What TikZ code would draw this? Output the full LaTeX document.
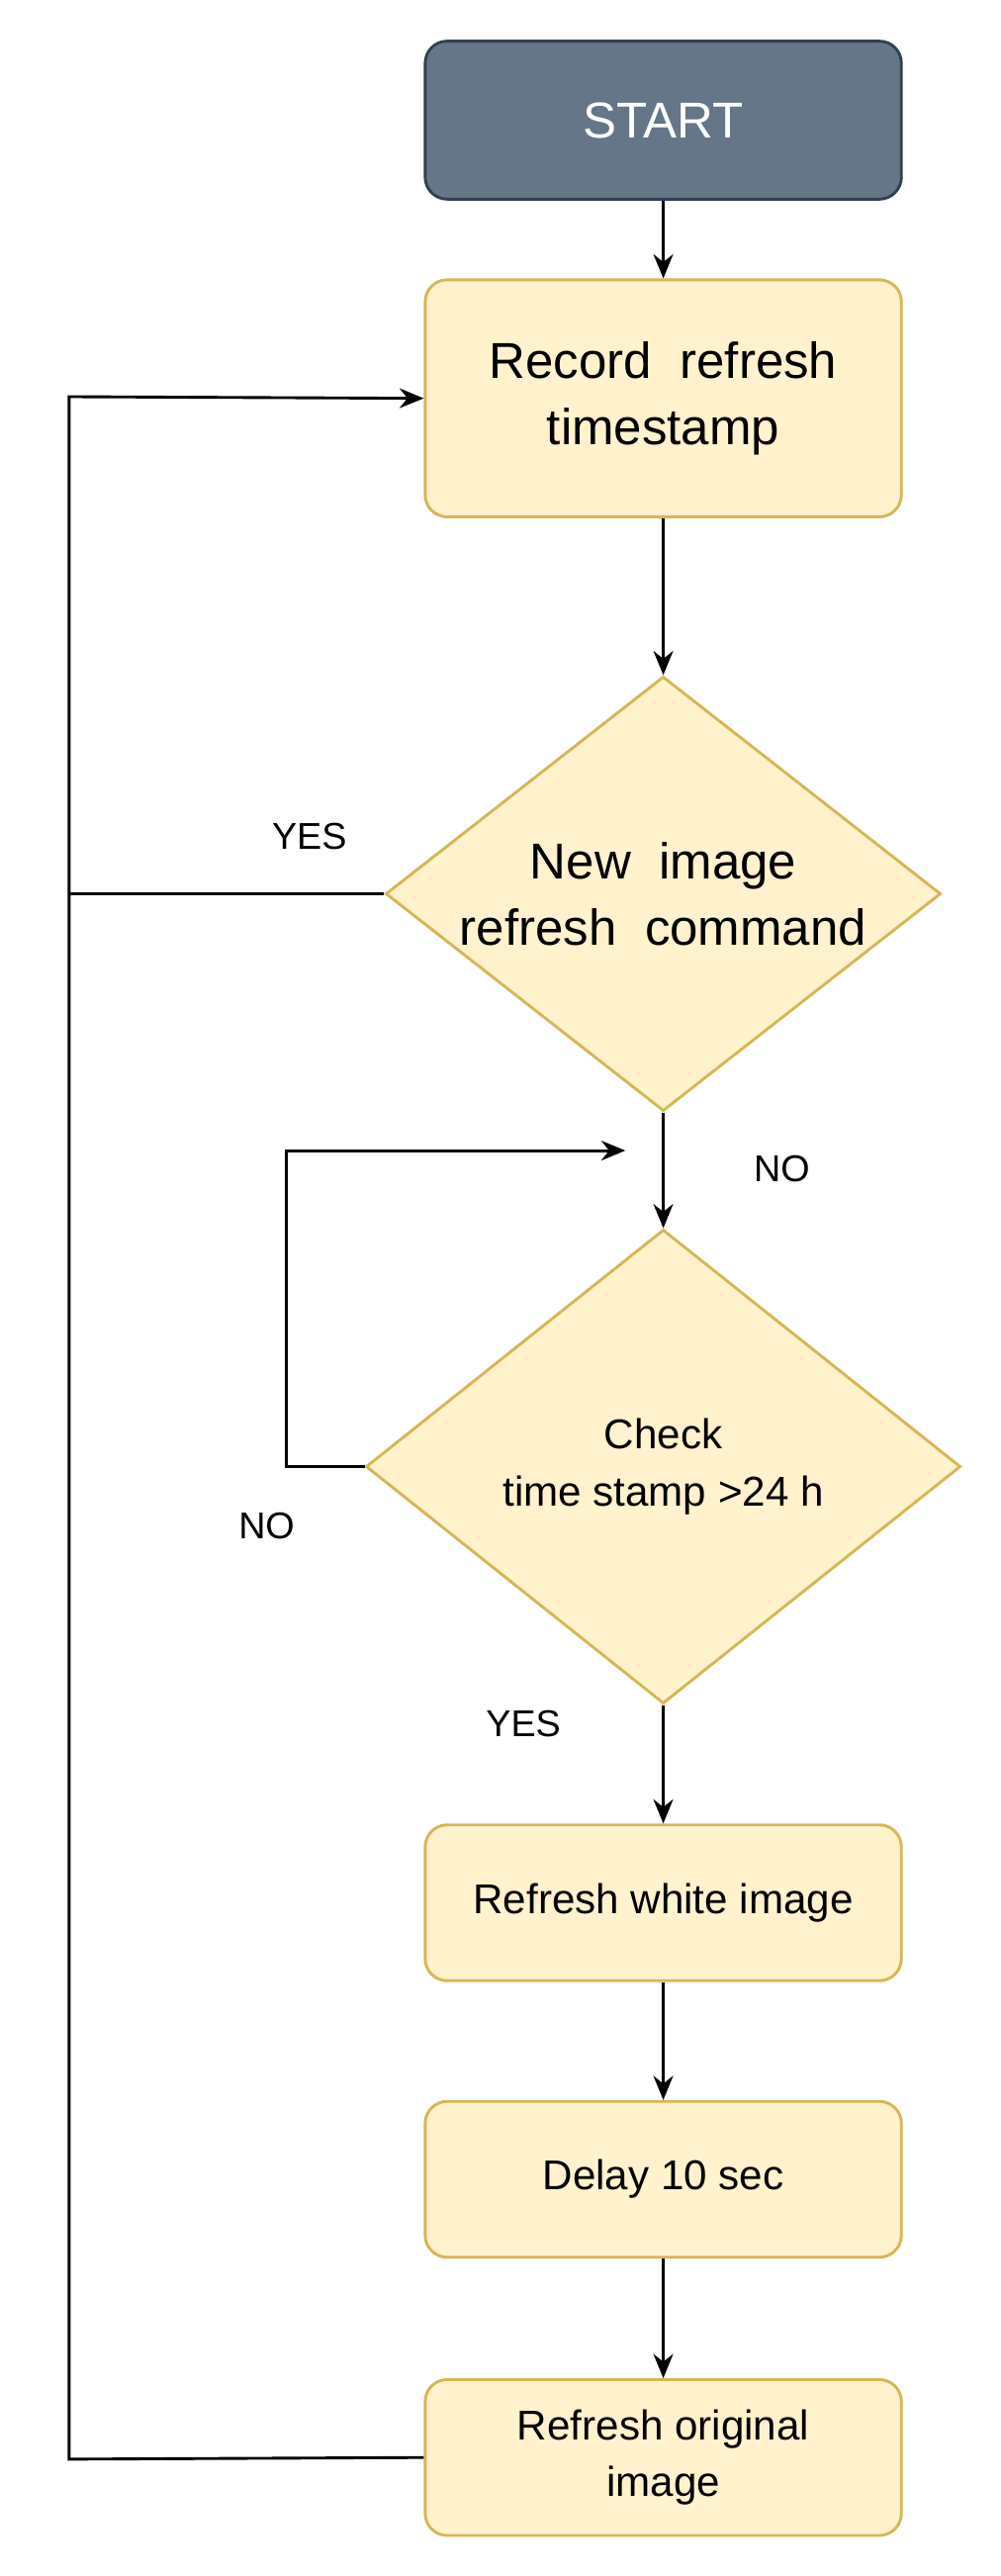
\documentclass[tikz,border=0pt]{standalone}
\usepackage{fontspec}
\setmainfont{Liberation Sans}
\usetikzlibrary{shapes.geometric,arrows.meta}
\definecolor{startfill}{RGB}{100,118,135}
\definecolor{startline}{RGB}{49,65,82}
\definecolor{boxfill}{RGB}{255,242,204}
\definecolor{boxline}{RGB}{214,182,86}
\tikzset{
  stepbox/.style={draw=boxline,fill=boxfill,line width=1.3pt,rounded corners=10pt,minimum width=217pt,align=center,inner sep=0pt},
  startbox/.style={stepbox,draw=startline,fill=startfill,text=white},
  decision/.style={diamond,draw=boxline,fill=boxfill,line width=1.3pt,aspect=1.28,align=center,inner sep=0pt},
  flow/.style={line width=1.3pt,-{Stealth[length=11pt,width=9pt]}},
  plain/.style={line width=1.3pt},
  lbl/.style={font=\fontsize{17}{20}\selectfont,inner sep=0.75pt}
}
\begin{document}
\begin{tikzpicture}[x=0.75pt,y=0.75pt,yscale=-1,xscale=1]
\useasboundingbox (0,0) rectangle (608,1565);

% Boxes
\node[startbox,minimum height=72pt,font=\fontsize{23}{27}\selectfont] (start) at (403,73) {START};
\node[stepbox,minimum height=108pt,font=\fontsize{23}{30}\selectfont] (record) at (403,242) {Record\ \ refresh\\timestamp};
\node[decision,minimum width=253pt,minimum height=198pt,font=\fontsize{23}{30}\selectfont] (newcmd) at (403,543) {New\ \ image\\refresh\ \ command};
\node[decision,minimum width=271pt,minimum height=216pt,font=\fontsize{19}{26}\selectfont] (check) at (403,891) {Check\\time stamp >24 h};
\node[stepbox,minimum height=71pt,font=\fontsize{19}{24}\selectfont] (white) at (403,1156) {Refresh white image};
\node[stepbox,minimum height=71pt,font=\fontsize{19}{24}\selectfont] (delay) at (403,1324) {Delay 10 sec};
\node[stepbox,minimum height=71pt,font=\fontsize{19}{26}\selectfont] (orig) at (403,1493) {Refresh original\\image};

% Connectors
\draw[flow] (start) -- (record);
\draw[flow] (record) -- (newcmd);
\draw[flow] (newcmd) -- (check);
\draw[flow] (check) -- (white);
\draw[flow] (white) -- (delay);
\draw[flow] (delay) -- (orig);
\coordinate (back) at (380,699);
\draw[flow] (check.west) -- (174,891) -- (174,699) -- (back);
\draw[flow] (orig.west) -- (42,1494) -- (42,241) -- (record.west);
\draw[plain] (newcmd.west) -- (42,543);

% Labels
\node[lbl] (yes1) at (188,508) {YES};
\node[lbl] (no1) at (475,710) {NO};
\node[lbl] (no2) at (162,927) {NO};
\node[lbl] (yes2) at (318,1047) {YES};
\end{tikzpicture}
\end{document}
